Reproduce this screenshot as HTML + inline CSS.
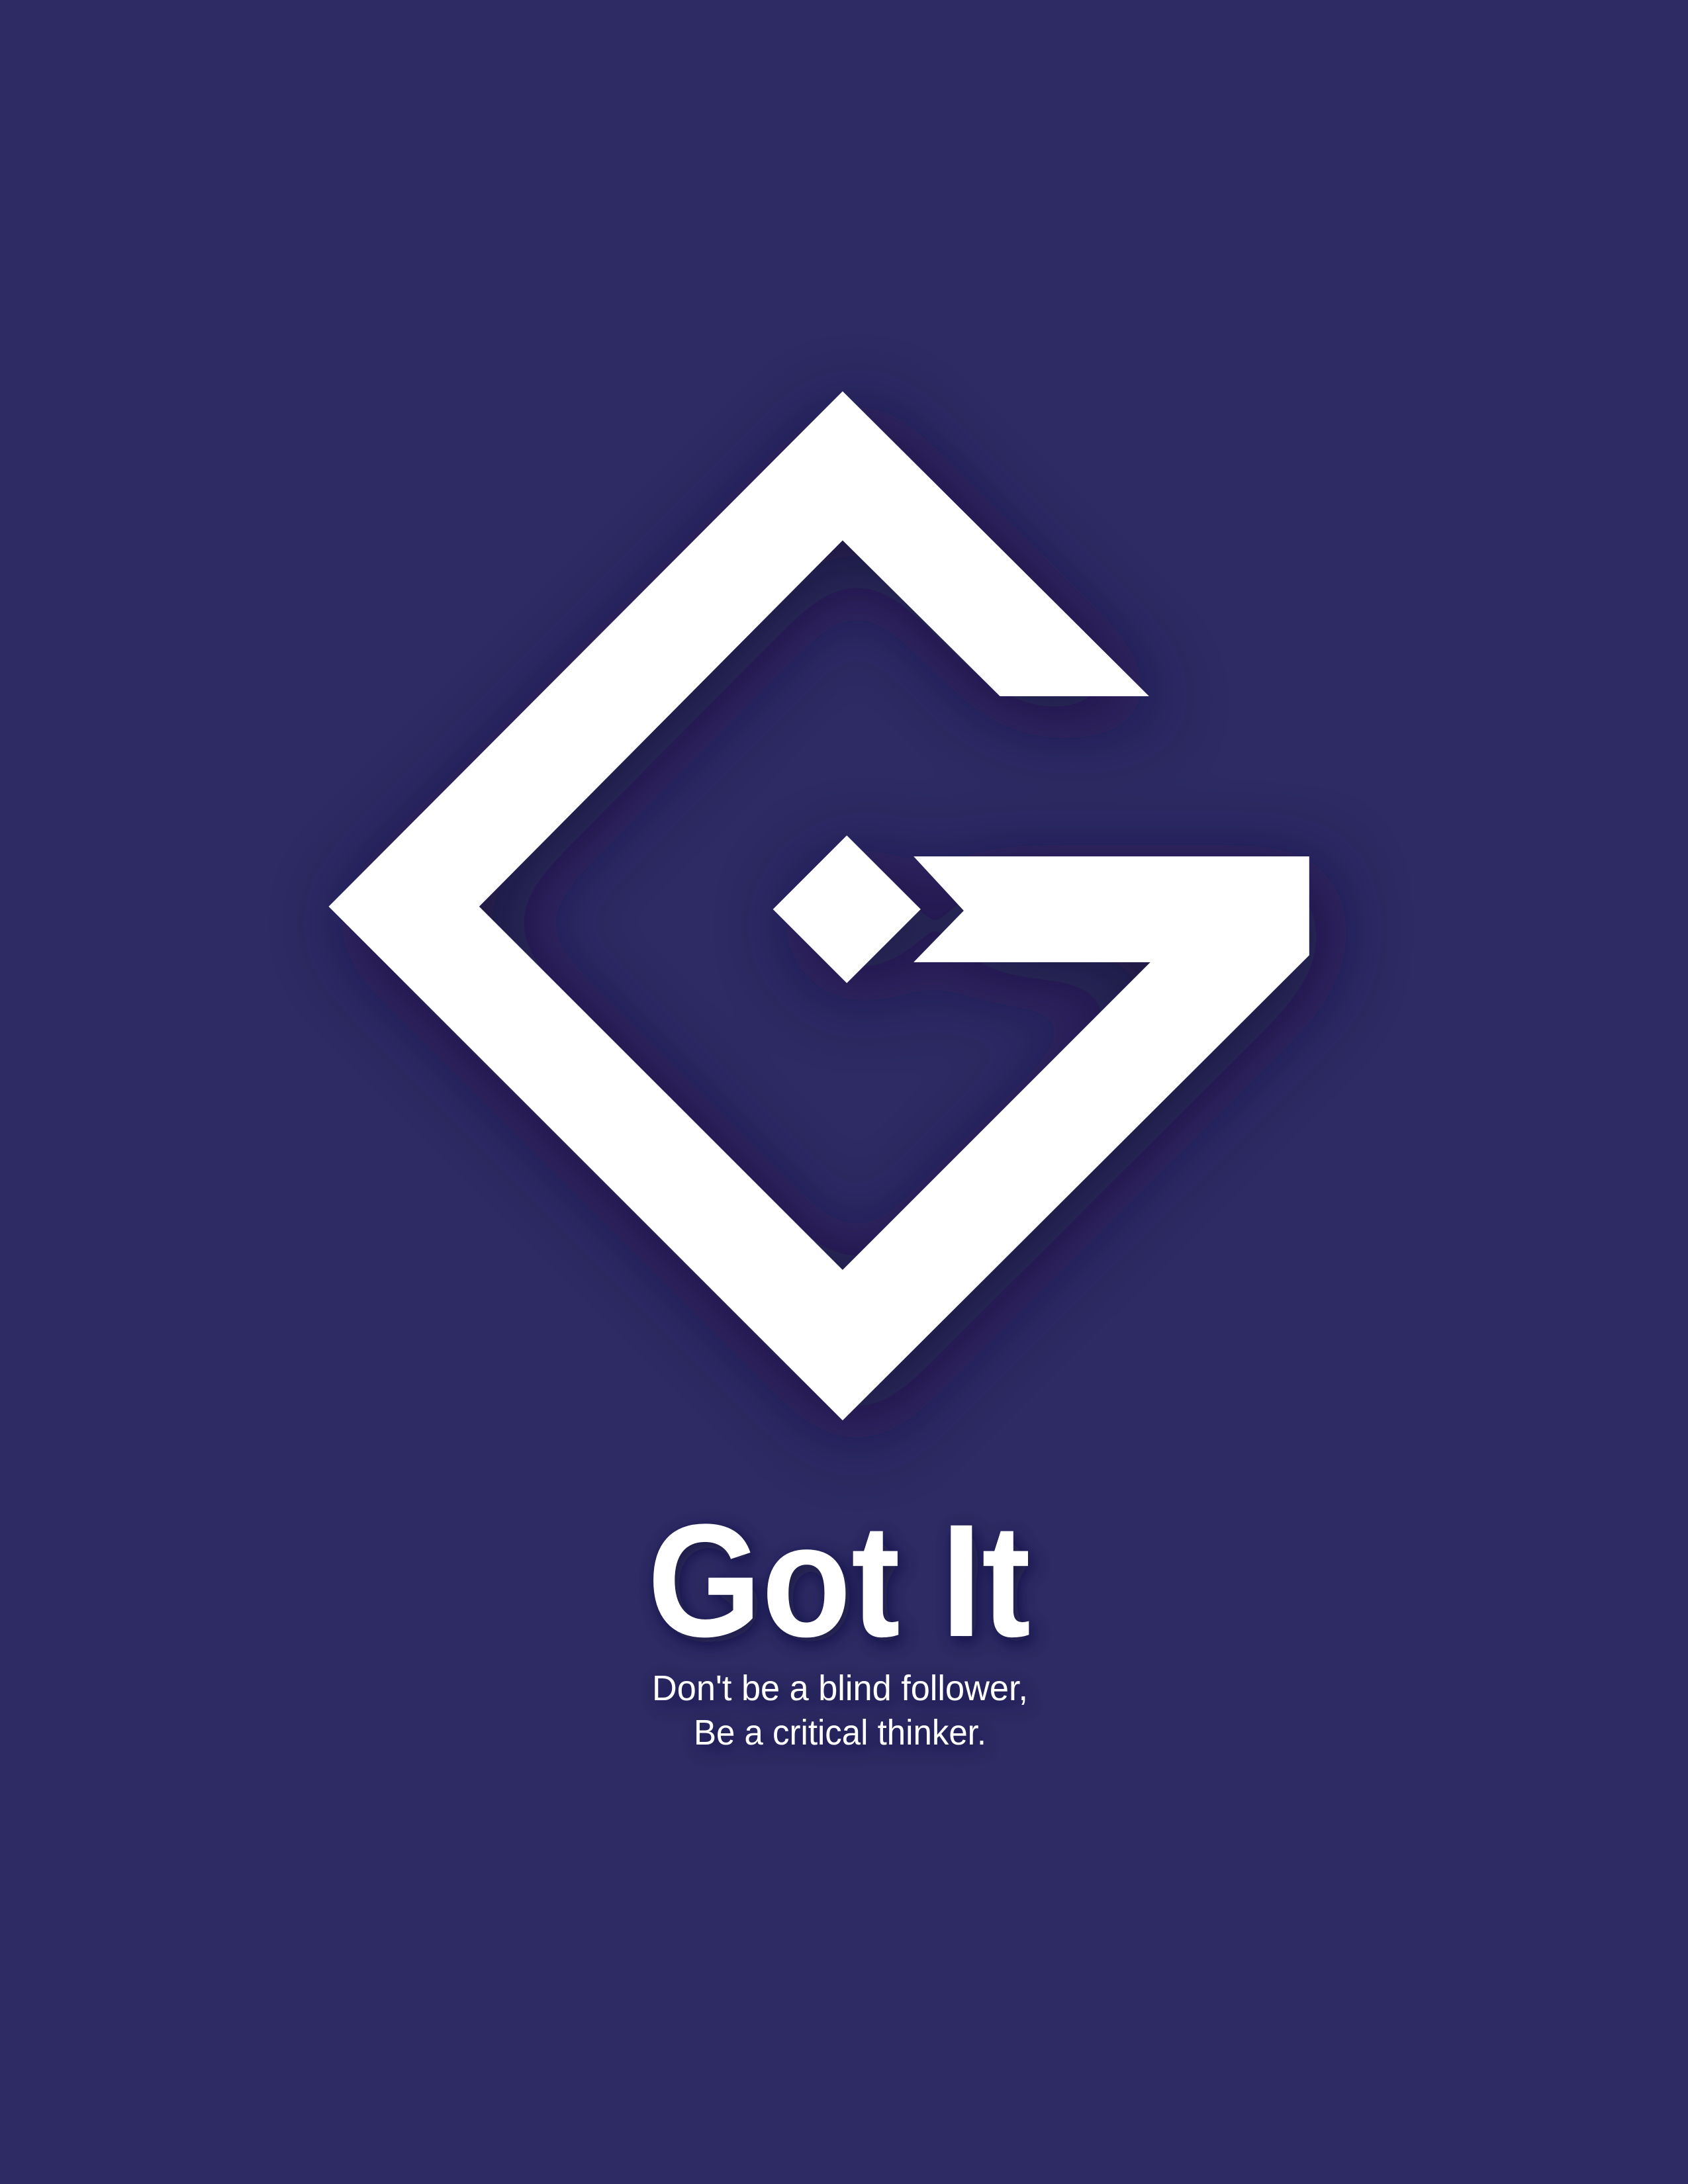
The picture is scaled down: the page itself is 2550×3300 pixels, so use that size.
<!DOCTYPE html>
<html>
<head>
<meta charset="utf-8">
<style>
  html,body{margin:0;padding:0;background:#2d2a64;}
  svg{display:block;}
</style>
</head>
<body>
<svg width="2550" height="3300" viewBox="0 0 2550 3300" xmlns="http://www.w3.org/2000/svg">
  <defs>
    <filter id="sh" x="-20%" y="-20%" width="140%" height="140%">
      <feDropShadow dx="10" dy="12" stdDeviation="30" flood-color="#120f38" flood-opacity="0.8"/>
    </filter>
    <filter id="tsh" x="-20%" y="-40%" width="140%" height="180%">
      <feDropShadow dx="6" dy="8" stdDeviation="14" flood-color="#120f38" flood-opacity="0.75"/>
    </filter>
  </defs>
  <rect width="2550" height="3300" fill="#2d2a64"/>
  <g transform="scale(2.104)" filter="url(#sh)">
    <polygon fill="#ffffff"
      points="605,281 825,500 718,500 605,388 344,651 605,912 826,691 656,691 692,654 656,615 940,615 940,686 605,1020 236,651"/>
    <polygon fill="#ffffff"
      points="608,600 661,653 608,706 555,653"/>
  </g>
  <text x="978" y="2472" textLength="579" lengthAdjust="spacingAndGlyphs"
    font-family="Liberation Sans, sans-serif" font-weight="bold" font-size="243" fill="#ffffff" filter="url(#tsh)">Got It</text>
  <text x="985" y="2569" textLength="568" lengthAdjust="spacingAndGlyphs"
    font-family="Liberation Sans, sans-serif" font-size="54" fill="#ffffff" filter="url(#tsh)">Don't be a blind follower,</text>
  <text x="1048" y="2636" textLength="442" lengthAdjust="spacingAndGlyphs"
    font-family="Liberation Sans, sans-serif" font-size="54" fill="#ffffff" filter="url(#tsh)">Be a critical thinker.</text>
</svg>
</body>
</html>
